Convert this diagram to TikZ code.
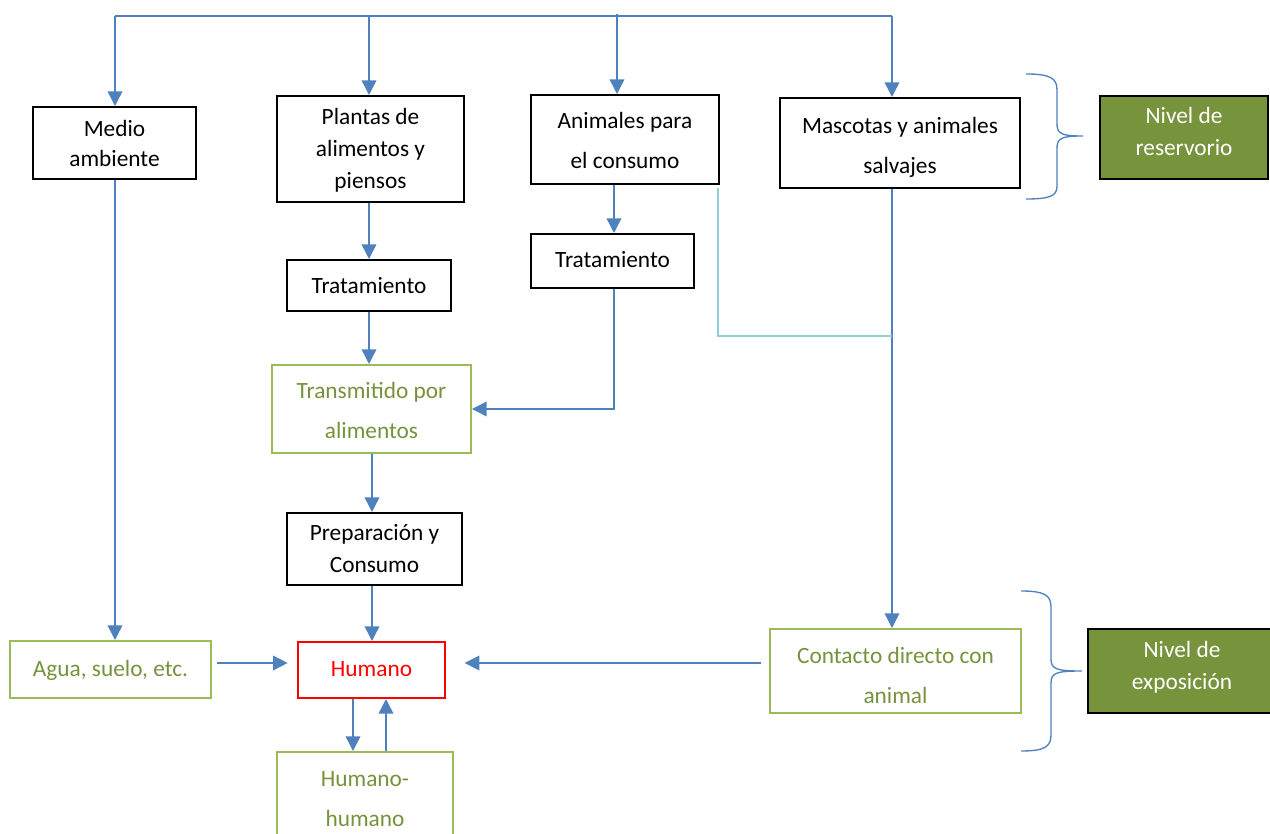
\documentclass[tikz,border=0pt]{standalone}
\usepackage{fontspec}
\setmainfont{Carlito}
\usetikzlibrary{arrows.meta,fit,calc}
\definecolor{cblue}{HTML}{4F81BD}
\definecolor{lblue}{HTML}{92CDDC}
\definecolor{gborder}{HTML}{9BBB59}
\definecolor{gtext}{HTML}{76923C}
\definecolor{gfill}{HTML}{77933C}
\tikzset{
  box/.style={draw=black, line width=1.5pt, inner sep=0pt},
  gbox/.style={draw=gborder, line width=1.5pt, inner sep=0pt},
  rbox/.style={draw=red, line width=1.5pt, inner sep=0pt},
  nbox/.style={draw=black, fill=gfill, line width=1.5pt, inner sep=0pt},
  lbl/.style={inner sep=0pt, align=center, text=black},
  glbl/.style={lbl, text=gtext},
  rlbl/.style={lbl, text=red},
  wlbl/.style={lbl, text=white},
  ls/.style={font=\fontsize{17.5}{24}\selectfont},
  lm/.style={font=\fontsize{17.5}{22.5}\selectfont},
  lw/.style={font=\fontsize{17.5}{30}\selectfont},
  lh/.style={font=\fontsize{17.5}{29.5}\selectfont},
  conn/.style={draw=cblue, line width=1.1pt},
  arr/.style={conn, -{Triangle[width=11pt,length=11pt]}},
  brace/.style={draw=cblue, line width=1pt},
}
\begin{document}
\begin{tikzpicture}[x=0.75pt,y=-0.75pt]
\useasboundingbox (0,0) rectangle (1270,834);
\clip (0,0) rectangle (1270,834);
% boxes
\node[box,fit={(33,107) (196,179)}] (medio) {};
\node[box,fit={(277,96) (464,202)}] (plantas) {};
\node[box,fit={(531,95) (719,184)}] (animales) {};
\node[box,fit={(780,98) (1020,188)}] (mascotas) {};
\node[nbox,fit={(1100,96) (1268,179)}] (reserv) {};
\node[box,fit={(287,260) (451,311)}] (tratL) {};
\node[box,fit={(531,234) (694,288)}] (tratR) {};
\node[gbox,fit={(272,365) (471,453)}] (trans) {};
\node[box,fit={(287,513) (462,585)}] (prep) {};
\node[gbox,fit={(10,641) (211,698)}] (agua) {};
\node[rbox,fit={(298,642) (445,698)}] (humano) {};
\node[gbox,fit={(770,629) (1021,713)}] (contacto) {};
\node[nbox,fit={(1088,629) (1275,713)}] (expo) {};
\node[gbox,fit={(277,752) (453,856)}] (hh) {};
% labels
\node[lbl,lm] (medio-t) at (114.5,143) {Medio\\ambiente};
\node[lbl,ls] (plantas-t) at (370.5,150) {Plantas de\\alimentos y\\piensos};
\node[lbl,lw] (animales-t) at (625,140.5) {Animales para\\el consumo};
\node[lbl,lw] (mascotas-t) at (900,147) {Mascotas y animales\\salvajes};
\node[wlbl,ls] (reserv-t) at (1184,131.5) {Nivel de\\reservorio};
\node[lbl,ls] (tratL-t) at (369,285.5) {Tratamiento};
\node[lbl,ls] (tratR-t) at (612.5,260) {Tratamiento};
\node[glbl,lw] (trans-t) at (371.5,410) {Transmitido por\\alimentos};
\node[lbl,ls] (prep-t) at (374.5,549) {Preparación y\\Consumo};
\node[glbl,ls] (agua-t) at (110.5,670.5) {Agua, suelo, etc.};
\node[rlbl,ls] (humano-t) at (371.5,669) {Humano};
\node[glbl,lw] (contacto-t) at (895.5,675.5) {Contacto directo con\\animal};
\node[wlbl,ls] (expo-t) at (1182,667) {Nivel de\\exposición};
\node[glbl,lh] (hh-t) at (365,799) {Humano-\\humano};
% top distribution line
\coordinate (tL) at (115,16);
\coordinate (tR) at (892,16);
\coordinate (tP) at (369,16);
\coordinate (tA) at (617,14);
\draw[conn] (tL) -- (tR);
\draw[arr] (tL) -- (tL |- medio.north);
\draw[arr] (tP) -- (tP |- plantas.north);
\draw[arr] (tA) -- (tA |- animales.north);
\draw[arr] (tR) -- (tR |- mascotas.north);
% vertical flows
\draw[arr] (tL |- medio.south) -- (tL |- agua.north);
\draw[arr] (tP |- plantas.south) -- (tP |- tratL.north);
\draw[arr] (tP |- tratL.south) -- (tP |- trans.north);
\coordinate (xA) at (614,0);
\draw[arr] (xA |- animales.south) -- (xA |- tratR.north);
\draw[arr] (xA |- tratR.south) |- (trans.east);
\coordinate (xT) at (372,0);
\draw[arr] (xT |- trans.south) -- (xT |- prep.north);
\draw[arr] (xT |- prep.south) -- (xT |- humano.north);
\draw[arr] (tR |- mascotas.south) -- (tR |- contacto.north);
% light blue link
\coordinate (lb1) at (718,188);
\coordinate (lb2) at (718,336);
\draw[draw=lblue, line width=1.1pt] (lb1) -- (lb2) -- (tR |- lb2);
% horizontal arrows to Humano
\coordinate (hy) at (0,663);
\draw[arr, shorten <=4pt, shorten >=7pt] (agua.east |- hy) -- (humano.west |- hy);
\draw[arr, shorten <=6pt, shorten >=14pt] (contacto.west |- hy) -- (humano.east |- hy);
% human-human
\coordinate (hd) at (353,0);
\coordinate (hu) at (386,0);
\draw[arr] (hd |- humano.south) -- (hd |- hh.north);
\draw[arr] (hu |- hh.north) -- (hu |- humano.south);
% braces
\draw[brace] (1026,74) .. controls (1050,74) and (1057,78) .. (1057,90) -- (1057,124)
  .. controls (1057,134) and (1062,136) .. (1083,136)
  .. controls (1062,136) and (1057,138) .. (1057,148) -- (1057,186)
  .. controls (1057,196) and (1050,199) .. (1026,199);
\draw[brace] (1021,591) .. controls (1044,591) and (1051,595) .. (1051,607) -- (1051,659)
  .. controls (1051,669) and (1056,671) .. (1082,671)
  .. controls (1056,671) and (1051,673) .. (1051,683) -- (1051,735)
  .. controls (1051,747) and (1044,751) .. (1021,751);
\end{tikzpicture}
\end{document}
